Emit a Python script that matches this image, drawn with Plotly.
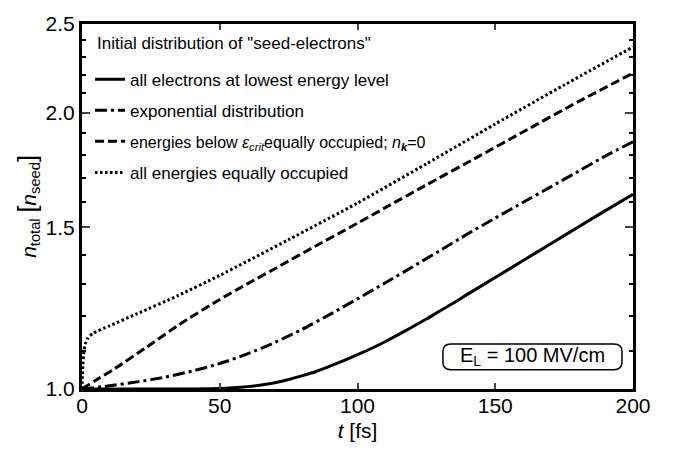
import plotly.graph_objects as go

# ---- data (t in fs, n_total / n_seed) ----
t_solid = [0, 10, 20, 30, 40, 50, 55, 60, 65, 70, 75, 80, 85, 90, 95, 100, 105, 110, 115, 120,
           125, 130, 135, 140, 150, 160, 170, 180, 190, 200]
lowest_level = [1.0, 1.0, 1.0, 1.0, 1.0, 1.001, 1.003, 1.006, 1.010, 1.016, 1.024, 1.034, 1.045,
                1.059, 1.074, 1.090, 1.107, 1.126, 1.147, 1.169, 1.192, 1.217, 1.242, 1.269,
                1.323, 1.380, 1.439, 1.501, 1.565, 1.630]

t_dashdot = [0, 10, 20, 30, 40, 50, 60, 70, 80, 90, 100, 110, 120, 130, 140, 150, 160, 170, 180, 190, 200]
exponential = [1.0, 1.008, 1.018, 1.030, 1.046, 1.066, 1.092, 1.124, 1.162, 1.206, 1.254, 1.305,
               1.359, 1.416, 1.476, 1.536, 1.597, 1.660, 1.726, 1.795, 1.860]

t_dash = [0, 5, 12, 23.5, 35, 50, 60, 72, 85, 97, 110, 125, 144, 160, 180, 200]
below_crit = [1.0, 1.022, 1.053, 1.111, 1.174, 1.252, 1.302, 1.363, 1.433, 1.499, 1.576, 1.669,
              1.793, 1.906, 2.056, 2.210]

t_dot = [0, 0.3, 0.7, 1.2, 2, 4, 10, 20, 35, 50, 75, 100, 125, 150, 175, 200]
all_equal = [1.0, 1.06, 1.10, 1.12, 1.135, 1.15, 1.172, 1.208, 1.265, 1.33, 1.455, 1.595, 1.76,
             1.945, 2.145, 2.36]

x_ticks = [0, 50, 100, 150, 200]
y_ticks = [1.0, 1.5, 2.0, 2.5]
y_ticklabels = ["1.0", "1.5", "2.0", "2.5"]
y_minor = [1.1, 1.2, 1.3, 1.4, 1.6, 1.7, 1.8, 1.9, 2.1, 2.2, 2.3, 2.4]

FONT = "Liberation Sans, Arial, sans-serif"
LW = 3

fig = go.Figure()
fig.add_trace(go.Scatter(x=t_solid, y=lowest_level, mode="lines", legendgroup="a",
                         name="all electrons at lowest energy level",
                         line=dict(color="black", width=LW, shape="spline", smoothing=0.6)))
fig.add_trace(go.Scatter(x=t_dashdot, y=exponential, mode="lines", legendgroup="b",
                         name="exponential distribution",
                         line=dict(color="black", width=LW, dash="12px,4px,3px,4px",
                                   shape="spline", smoothing=0.6)))
fig.add_trace(go.Scatter(x=t_dash, y=below_crit, mode="lines", legendgroup="c",
                         name=('<span style="font-size:16px">energies below <i>ε<sub>crit</sub></i>'
                               'equally occupied; <i>n</i><sub><b><i>k</i></b></sub>=0</span>'),
                         line=dict(color="black", width=LW, dash="9px,4px",
                                   shape="spline", smoothing=0.6)))
fig.add_trace(go.Scatter(x=t_dot, y=all_equal, mode="lines", legendgroup="d",
                         name="all energies equally occupied",
                         line=dict(color="black", width=LW, dash="2.5px,2.5px",
                                   shape="spline", smoothing=0.6)))

# legend heading
fig.add_annotation(x=0.0236, y=0.947, xref="paper", yref="paper", xanchor="left", yanchor="middle",
                   text='Initial distribution of "seed-electrons"', showarrow=False,
                   font=dict(family=FONT, size=17, color="black"))

# field-strength label in a rounded box
fig.add_annotation(x=0.8175, y=0.088, xref="paper", yref="paper", xanchor="center", yanchor="middle",
                   text="E<sub>L</sub> = 100 MV/cm", showarrow=False,
                   font=dict(family=FONT, size=20, color="black"))
x0, x1, y0, y1, rx, ry = 0.655, 0.980, 0.053, 0.123, 0.0145, 0.021
fig.add_shape(type="path", xref="paper", yref="paper",
              path=(f"M {x0+rx},{y0} L {x1-rx},{y0} Q {x1},{y0} {x1},{y0+ry} "
                    f"L {x1},{y1-ry} Q {x1},{y1} {x1-rx},{y1} L {x0+rx},{y1} "
                    f"Q {x0},{y1} {x0},{y1-ry} L {x0},{y0+ry} Q {x0},{y0} {x0+rx},{y0} Z"),
              line=dict(color="black", width=1.5))

fig.update_layout(
    width=673, height=461,
    margin=dict(l=82, r=40, t=14, b=72),
    paper_bgcolor="white", plot_bgcolor="white",
    font=dict(family=FONT, color="black"),
    showlegend=True,
    legend=dict(x=0.0145, y=0.897, xanchor="left", yanchor="top",
                bgcolor="rgba(0,0,0,0)", borderwidth=0,
                font=dict(family=FONT, size=17),
                tracegroupgap=6, traceorder="grouped", itemwidth=30),
    xaxis=dict(range=[0, 200], tickvals=x_ticks, ticks="inside", ticklen=6, tickwidth=2,
               showline=True, linewidth=3, linecolor="black", mirror="ticks",
               showgrid=False, zeroline=False, ticklabelstandoff=-4,
               tickfont=dict(family=FONT, size=21),
               title=dict(text="<i>t</i> [fs]", font=dict(family=FONT, size=21), standoff=8)),
    yaxis=dict(type="log", range=[0, 0.39794], tickvals=y_ticks, ticktext=y_ticklabels,
               ticks="inside", ticklen=8, tickwidth=2,
               showline=True, linewidth=3, linecolor="black", mirror="ticks",
               showgrid=False, zeroline=False,
               tickfont=dict(family=FONT, size=21),
               minor=dict(tickvals=y_minor, ticks="inside", ticklen=4, tickwidth=2, tickcolor="black",
                          showgrid=False),
               title=dict(text=('<i>n</i><sub>total</sub> <span style="font-size:25px">[</span>'
                                '<i>n</i><sub>seed</sub><span style="font-size:25px">]</span>'),
                          font=dict(family=FONT, size=21), standoff=4)),
)

fig.write_html("out.html")
